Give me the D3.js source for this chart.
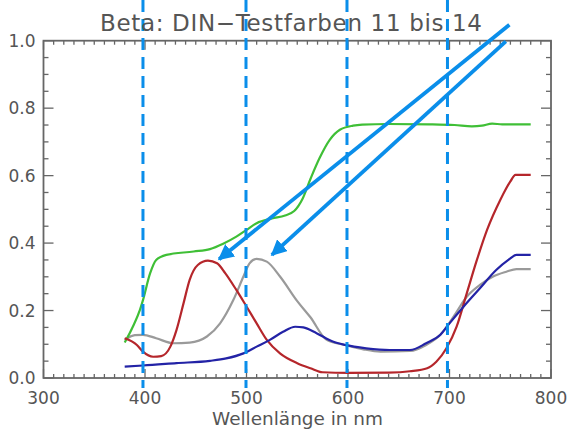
<!DOCTYPE html>
<html>
<head>
<meta charset="utf-8">
<script src="https://cdn.jsdelivr.net/npm/d3@7"></script>
<style>
  body { margin: 0; background: #fff; }
  text { font-family: "DejaVu Sans", "Liberation Sans", sans-serif; fill: #555; }
</style>
</head>
<body>
<svg id="chart"></svg>
<script>
// spectral curves, [wavelength nm, value]
var green = [[380,0.105],[388,0.152],[395,0.202],[398,0.231],[405,0.31],[411,0.35],[421,0.365],
  [448,0.375],[464,0.382],[477,0.398],[490,0.419],[500,0.439],[510,0.459],[525,0.473],[538,0.482],
  [547,0.495],[555,0.53],[563,0.59],[572,0.652],[582,0.706],[592,0.736],[605,0.748],[614,0.751],[640,0.753],
  [680,0.752],[705,0.750],[722,0.746],[732,0.748],[742,0.754],[752,0.752],[780,0.752]]
var gray = [[380,0.113],[390,0.127],[398,0.128],[411,0.118],[428,0.103],[444,0.105],[461,0.123],
  [474,0.162],[487,0.231],[497,0.301],[503,0.340],[510,0.353],[520,0.345],[533,0.301],[550,0.228],
  [563,0.18],[579,0.113],[597,0.098],[615,0.085],[632,0.078],[661,0.080],[677,0.098],[691,0.128],
  [704,0.182],[717,0.241],[730,0.276],[743,0.301],[756,0.315],[766,0.323],[780,0.323]]
var red = [[380,0.118],[392,0.098],[398,0.078],[408,0.063],[416,0.065],[425,0.093],[431,0.142],
  [438,0.222],[444,0.291],[452,0.335],[462,0.348],[471,0.340],[479,0.311],[490,0.261],[500,0.212],
  [510,0.162],[520,0.113],[533,0.073],[550,0.044],[563,0.029],[575,0.017],[600,0.015],[640,0.016],
  [661,0.020],[678,0.029],[687,0.048],[697,0.088],[707,0.152],[717,0.251],[727,0.350],[737,0.439],
  [750,0.528],[760,0.583],[765,0.602],[780,0.602]]
var blue = [[380,0.034],[398,0.037],[431,0.044],[464,0.051],[480,0.058],[497,0.073],[510,0.093],
  [523,0.113],[536,0.137],[548,0.152],[556,0.150],[569,0.133],[585,0.108],[597,0.098],[618,0.088],
  [641,0.083],[661,0.083],[677,0.103],[691,0.128],[700,0.162],[714,0.212],[730,0.266],[746,0.320],
  [758,0.350],[766,0.365],[780,0.365]]

var xTicks = [300,400,500,600,700,800]
var yTicks = [0,0.2,0.4,0.6,0.8,1.0]
var markers = [398,499.5,599,698]
// arrows: [from nm, from value, to nm, to value]
var arrows = [[759,1.047,473,0.352],[755.5,0.998,525,0.365]]

var screen = {width:569,height:432}
var margins = {left:43.5,right:18,top:40.7,bottom:54}
var graph = {
  width:screen.width-margins.left-margins.right,
  height:screen.height-margins.top-margins.bottom
}
var axisColor = "#666"
var markColor = "#0a8eea"

var svg = d3.select("#chart")
  .attr("width",screen.width)
  .attr("height",screen.height)

var defs = svg.append("defs")
defs.append("marker")
  .attr("id","head")
  .attr("viewBox","0 0 10 10")
  .attr("refX",9).attr("refY",5)
  .attr("markerWidth",4.2).attr("markerHeight",4.2)
  .attr("markerUnits","strokeWidth")
  .attr("orient","auto")
  .append("path")
  .attr("d","M0,0L10,5L0,10z")
  .attr("fill",markColor)

var xScale = d3.scaleLinear().domain([300,800]).range([0,graph.width])
var yScale = d3.scaleLinear().domain([0,1]).range([graph.height,0])

var target = svg.append("g")
  .attr("transform","translate("+margins.left+","+margins.top+")")

// frame with inward ticks on all four sides
var drawTicks = function(){
  var minorX = d3.range(300,801,10)
  var minorY = d3.range(0,1.0001,0.05)
  var isMajorX = function(d){return d%100==0}
  var isMajorY = function(d){return Math.abs(d*5-Math.round(d*5))<1e-6}
  var t = target.append("g").attr("stroke",axisColor).attr("stroke-width",1.3)
  t.selectAll(".xb").data(minorX).enter().append("line")
    .attr("x1",function(d){return xScale(d)}).attr("x2",function(d){return xScale(d)})
    .attr("y1",graph.height).attr("y2",function(d){return graph.height-(isMajorX(d)?9:4)})
  t.selectAll(".xt").data(minorX).enter().append("line")
    .attr("x1",function(d){return xScale(d)}).attr("x2",function(d){return xScale(d)})
    .attr("y1",0).attr("y2",function(d){return isMajorX(d)?9:4})
  t.selectAll(".yl").data(minorY).enter().append("line")
    .attr("y1",function(d){return yScale(d)}).attr("y2",function(d){return yScale(d)})
    .attr("x1",0).attr("x2",function(d){return isMajorY(d)?10:5})
  t.selectAll(".yr").data(minorY).enter().append("line")
    .attr("y1",function(d){return yScale(d)}).attr("y2",function(d){return yScale(d)})
    .attr("x1",graph.width).attr("x2",function(d){return graph.width-(isMajorY(d)?10:5)})
  target.append("rect")
    .attr("width",graph.width).attr("height",graph.height)
    .attr("fill","none").attr("stroke",axisColor).attr("stroke-width",1.8)
}

var drawLabels = function(){
  target.selectAll(".xl").data(xTicks).enter().append("text")
    .attr("x",function(d){return xScale(d)})
    .attr("y",graph.height+26)
    .attr("text-anchor","middle")
    .attr("font-size",17)
    .text(function(d){return d})
  target.selectAll(".yl2").data(yTicks).enter().append("text")
    .attr("x",-8)
    .attr("y",function(d){return yScale(d)+6})
    .attr("text-anchor","end")
    .attr("font-size",17)
    .text(function(d){return d.toFixed(1)})
  svg.append("text")
    .attr("x",212)
    .attr("y",425)
    .attr("font-size",17)
    .attr("textLength",171)
    .attr("lengthAdjust","spacingAndGlyphs")
    .text("Wellenlänge in nm")
  svg.append("text")
    .attr("x",100)
    .attr("y",31)
    .attr("font-size",23)
    .attr("textLength",382)
    .attr("lengthAdjust","spacing")
    .text("Beta: DIN\u2212Testfarben  11  bis  14")
}

var drawCurves = function(){
  var line = d3.line()
    .x(function(d){return xScale(d[0])})
    .y(function(d){return yScale(d[1])})
    .curve(d3.curveMonotoneX)
  var series = [
    {data:gray,color:"#9a9a9a"},
    {data:green,color:"#3fbf36"},
    {data:red,color:"#b5262b"},
    {data:blue,color:"#2323a6"}
  ]
  target.selectAll(".curve").data(series).enter().append("path")
    .attr("d",function(s){return line(s.data)})
    .attr("fill","none")
    .attr("stroke",function(s){return s.color})
    .attr("stroke-width",2.2)
}

var drawMarkers = function(){
  target.selectAll(".mark").data(markers).enter().append("line")
    .attr("x1",function(d){return xScale(d)}).attr("x2",function(d){return xScale(d)})
    .attr("y1",-margins.top).attr("y2",graph.height+10)
    .attr("stroke",markColor).attr("stroke-width",3)
    .attr("stroke-dasharray","12,7")
  target.selectAll(".arrow").data(arrows).enter().append("line")
    .attr("x1",function(a){return xScale(a[0])}).attr("y1",function(a){return yScale(a[1])})
    .attr("x2",function(a){return xScale(a[2])}).attr("y2",function(a){return yScale(a[3])})
    .attr("stroke",markColor).attr("stroke-width",3.8)
    .attr("marker-end","url(#head)")
}

drawTicks()
drawCurves()
drawMarkers()
drawLabels()
</script>
</body>
</html>
